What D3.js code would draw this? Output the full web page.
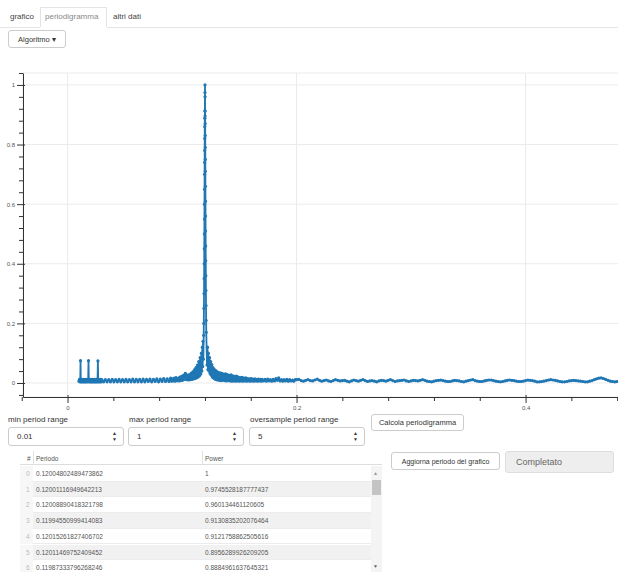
<!DOCTYPE html>
<html>
<head>
<meta charset="utf-8">
<script src="https://cdn.jsdelivr.net/npm/d3@7"></script>
<style>
  body { margin:0; width:618px; height:572px; overflow:hidden; background:#fff;
         font-family:"Liberation Sans", Arial, sans-serif; color:#333; position:relative; }
  .abs { position:absolute; box-sizing:border-box; }
  .tab { font-size:8px; color:#444; }
  .btn { border:1px solid #ccc; border-radius:3px; background:#fff; font-size:7.5px; color:#333;
         display:flex; align-items:center; justify-content:center; white-space:nowrap; }
  .lbl { font-size:8px; color:#333; white-space:nowrap; }
  .inp { border:1px solid #ccc; border-radius:3px; background:#fff; font-size:8px; color:#333;
         padding-left:8px; display:flex; align-items:center; }
  .spin { position:absolute; right:6px; top:2px; font-size:5px; line-height:6px; color:#333; text-align:center; }
  .cell { position:absolute; font-size:6.5px; color:#555; white-space:nowrap; }
  svg text { font-family:"Liberation Sans", Arial, sans-serif; }
</style>
</head>
<body>
<svg id="chart" class="abs" style="left:0;top:0" width="618" height="418"></svg>

<div class="abs tab" style="left:10px;top:12px">grafico</div>
<div class="abs" style="left:40px;top:7px;width:67px;height:21px;border:1px solid #e3e3e3;border-bottom:none;background:#fff"></div>
<div class="abs tab" style="left:45px;top:12px;color:#888">periodigramma</div>
<div class="abs tab" style="left:113px;top:12px">altri dati</div>
<div class="abs" style="left:0;top:27px;width:618px;height:1px;background:#e5e5e5"></div>
<div class="abs" style="left:40px;top:27px;width:67px;height:1px;background:#fff"></div>
<div class="abs btn" style="left:8px;top:30px;width:58px;height:18px">Algoritmo&nbsp;▾</div>

<div class="abs lbl" style="left:8px;top:415px">min period range</div>
<div class="abs lbl" style="left:129px;top:415px">max period range</div>
<div class="abs lbl" style="left:250px;top:415px">oversample period range</div>
<div class="abs inp" style="left:8px;top:427px;width:116px;height:19px">0.01<div class="spin">▲<br>▼</div></div>
<div class="abs inp" style="left:128px;top:427px;width:116px;height:19px">1<div class="spin">▲<br>▼</div></div>
<div class="abs inp" style="left:249px;top:427px;width:116px;height:19px">5<div class="spin">▲<br>▼</div></div>
<div class="abs btn" style="left:371px;top:414px;width:93px;height:17px">Calcola periodigramma</div>

<div class="abs btn" style="left:391px;top:452px;width:109px;height:18px;font-size:7px">Aggiorna periodo del grafico</div>
<div class="abs" style="left:505px;top:451px;width:109px;height:22px;background:#eee;border:1px solid #ddd;border-radius:3px;font-size:9px;color:#666;padding-left:10px;display:flex;align-items:center">Completato</div>

<div id="table" class="abs" style="left:20px;top:451px;width:362px;height:121px;overflow:hidden"></div>

<script>
// Periodogram samples, [period, power], grouped by stretch of the period axis
const shortPeriodBand = [
  [0.0100,0.006],[0.0104,0.012],[0.0108,0.004],[0.0111,0.011],[0.01135,0.075],[0.0116,0.004],
  [0.0120,0.012],[0.0124,0.004],[0.0128,0.011],[0.0132,0.004],[0.0136,0.012],[0.0140,0.004],
  [0.0144,0.011],[0.0148,0.004],[0.0152,0.012],[0.0156,0.004],[0.0160,0.011],[0.0164,0.004],
  [0.0168,0.012],[0.0172,0.004],[0.0176,0.011],[0.0180,0.006],[0.0183,0.075],[0.0186,0.004],
  [0.0190,0.012],[0.0194,0.004],[0.0198,0.011],[0.0202,0.004],[0.0206,0.012],[0.0210,0.004],
  [0.0214,0.011],[0.0218,0.004],[0.0222,0.012],[0.0226,0.004],[0.0230,0.011],[0.0234,0.004],
  [0.0238,0.012],[0.0242,0.004],[0.0246,0.011],[0.0250,0.004],[0.0254,0.012],[0.0258,0.004],
  [0.0262,0.011],[0.0265,0.074],[0.0268,0.004],[0.0272,0.012],[0.0276,0.004],[0.0280,0.011],
  [0.0285,0.004],[0.0290,0.012],[0.0295,0.004],[0.0300,0.011]
];
const flatBand = [
  [0.0315,0.004],[0.0330,0.011],[0.0345,0.004],[0.0360,0.011],[0.0375,0.004],[0.0390,0.012],
  [0.0405,0.004],[0.0420,0.011],[0.0435,0.004],[0.0450,0.012],[0.0465,0.004],[0.0480,0.011],
  [0.0495,0.004],[0.0510,0.012],[0.0525,0.004],[0.0540,0.011],[0.0555,0.004],[0.0570,0.013],
  [0.0585,0.004],[0.0600,0.012],[0.0615,0.004],[0.0630,0.012],[0.0645,0.004],[0.0660,0.013],
  [0.0675,0.004],[0.0690,0.012],[0.0705,0.005],[0.0720,0.013],[0.0735,0.004],[0.0750,0.012],
  [0.0765,0.005],[0.0780,0.014],[0.0795,0.004],[0.0810,0.013],[0.0825,0.005],[0.0840,0.015],
  [0.0855,0.005],[0.0870,0.014],[0.0885,0.005],[0.0900,0.016]
];
const risingBand = [
  [0.0908,0.006],[0.0916,0.014],[0.0924,0.007],[0.0932,0.016],[0.0940,0.006],[0.0948,0.018],
  [0.0956,0.008],[0.0964,0.015],[0.0972,0.007],[0.0980,0.020],[0.0988,0.008],[0.0996,0.022],
  [0.1004,0.009],[0.1012,0.026],[0.1020,0.012],[0.1028,0.032],[0.1034,0.030],[0.1040,0.011],
  [0.1048,0.026],[0.1056,0.010],[0.1064,0.028],[0.1072,0.011],[0.1080,0.033],[0.1088,0.012],
  [0.1096,0.038],[0.1104,0.014],[0.1110,0.045],[0.1116,0.015],[0.1122,0.052],[0.1128,0.018],
  [0.1134,0.060],[0.1140,0.020],[0.1146,0.072],[0.1152,0.024],[0.1158,0.085],[0.1164,0.030],
  [0.1169,0.100],[0.1173,0.040],[0.1177,0.120],[0.1180,0.055],[0.1183,0.140],[0.1186,0.080]
];
const peakRise = [
  [0.11890,0.16],[0.11900,0.20],[0.11910,0.25],[0.11920,0.30],[0.11928,0.35],[0.11935,0.40],
  [0.11942,0.45],[0.11948,0.50],[0.11954,0.55],[0.11959,0.60],[0.11964,0.65],[0.11968,0.70],
  [0.11972,0.74],[0.11976,0.78],[0.11979,0.82],[0.11982,0.86]
];
// Strongest periods, as listed in the table under the chart
const topPeriods = [0.12004802489473862, 0.12001116949642212, 0.12008890418321798,
  0.11994550999414083, 0.12015261827406702, 0.12011469752409452, 0.11987333796268246];
const topPowers = [1, 0.9745528187777437, 0.960134461120605,
  0.9130835202076464, 0.9121758862505616, 0.8956289926209206, 0.8884961637645321];
const peakFall = [
  [0.12020,0.87],[0.12024,0.83],[0.12028,0.79],[0.12032,0.75],[0.12036,0.71],[0.12041,0.66],
  [0.12046,0.61],[0.12051,0.56],[0.12057,0.51],[0.12063,0.46],[0.12070,0.41],[0.12077,0.36],
  [0.12085,0.31],[0.12094,0.26],[0.12104,0.21],[0.12115,0.17]
];
const decayBand = [
  [0.1218,0.060],[0.1222,0.120],[0.1226,0.045],[0.1230,0.100],[0.1235,0.040],[0.1240,0.085],
  [0.1245,0.032],[0.1250,0.072],[0.1255,0.026],[0.1260,0.062],[0.1265,0.020],[0.1270,0.052],
  [0.1275,0.017],[0.1280,0.046],[0.1285,0.014],[0.1290,0.042],[0.1295,0.012],[0.1300,0.040],
  [0.1308,0.010],[0.1316,0.036],[0.1324,0.009],[0.1332,0.034],[0.1340,0.008],[0.1348,0.032],
  [0.1356,0.009],[0.1364,0.030],[0.1372,0.008],[0.1380,0.031],[0.1388,0.007],[0.1396,0.028],
  [0.1404,0.008],[0.1412,0.026],[0.1420,0.007],[0.1428,0.027],[0.1436,0.006],[0.1444,0.024],
  [0.1452,0.007],[0.1460,0.022],[0.1468,0.006],[0.1476,0.023],[0.1484,0.007],[0.1492,0.020],
  [0.1500,0.006],[0.1508,0.018],[0.1516,0.007],[0.1524,0.019],[0.1532,0.006],[0.1540,0.016],
  [0.1548,0.007],[0.1556,0.017],[0.1564,0.006],[0.1572,0.015],[0.1580,0.007],[0.1588,0.014],
  [0.1596,0.006],[0.1604,0.015],[0.1612,0.007],[0.1620,0.013],[0.1628,0.006],[0.1636,0.014],
  [0.1644,0.007],[0.1652,0.012],[0.1660,0.006],[0.1668,0.013],[0.1676,0.007],[0.1684,0.012],
  [0.1692,0.006],[0.1700,0.012],[0.1712,0.007],[0.1724,0.012],[0.1736,0.006],[0.1748,0.013],
  [0.1760,0.007],[0.1772,0.011],[0.1784,0.006],[0.1796,0.012],[0.1808,0.007],[0.1820,0.015],
  [0.1832,0.009],[0.1844,0.017],[0.1856,0.007],[0.1868,0.011],[0.1880,0.006],[0.1892,0.011],
  [0.1904,0.007],[0.1916,0.012],[0.1928,0.006],[0.1940,0.011],[0.1952,0.007],[0.1964,0.010],
  [0.1976,0.006],[0.1988,0.011]
];
const longPeriodBand = [
  [0.200,0.011],[0.202,0.012],[0.204,0.008],[0.206,0.006],[0.208,0.009],[0.210,0.011],
  [0.212,0.008],[0.214,0.007],[0.216,0.010],[0.218,0.013],[0.220,0.009],[0.222,0.006],
  [0.224,0.008],[0.226,0.010],[0.228,0.007],[0.230,0.005],[0.232,0.008],[0.234,0.011],
  [0.236,0.009],[0.238,0.007],[0.240,0.008],[0.242,0.009],[0.244,0.006],[0.246,0.004],
  [0.248,0.007],[0.250,0.010],[0.252,0.008],[0.254,0.006],[0.256,0.009],[0.258,0.011],
  [0.260,0.008],[0.262,0.005],[0.264,0.007],[0.266,0.008],[0.268,0.006],[0.270,0.004],
  [0.272,0.007],[0.274,0.009],[0.276,0.008],[0.278,0.006],[0.280,0.009],[0.282,0.011],
  [0.284,0.008],[0.286,0.005],[0.288,0.007],[0.290,0.008],[0.292,0.009],[0.294,0.010],
  [0.296,0.007],[0.298,0.005],[0.300,0.007],[0.302,0.009],[0.304,0.008],[0.306,0.007],
  [0.308,0.009],[0.310,0.011],[0.312,0.009],[0.314,0.006],[0.316,0.005],[0.318,0.004],
  [0.320,0.006],[0.322,0.008],[0.324,0.009],[0.326,0.010],[0.328,0.008],[0.330,0.006],
  [0.332,0.005],[0.334,0.005],[0.336,0.007],[0.338,0.009],[0.340,0.008],[0.342,0.007],
  [0.344,0.005],[0.346,0.004],[0.348,0.006],[0.350,0.008],[0.352,0.010],[0.354,0.011],
  [0.356,0.008],[0.358,0.006],[0.360,0.005],[0.362,0.005],[0.364,0.007],[0.366,0.009],
  [0.368,0.010],[0.370,0.010],[0.372,0.008],[0.374,0.006],[0.376,0.005],[0.378,0.004],
  [0.380,0.005],[0.382,0.007],[0.384,0.009],[0.386,0.010],[0.388,0.009],[0.390,0.008],
  [0.392,0.006],[0.394,0.005],[0.396,0.005],[0.398,0.006],[0.400,0.008],[0.402,0.010],
  [0.404,0.009],[0.406,0.008],[0.408,0.006],[0.410,0.004],[0.412,0.004],[0.414,0.005],
  [0.416,0.006],[0.418,0.008],[0.420,0.010],[0.422,0.011],[0.424,0.010],[0.426,0.009],
  [0.428,0.007],[0.430,0.005],[0.432,0.004],[0.434,0.004],[0.436,0.005],[0.438,0.007],
  [0.440,0.008],[0.442,0.009],[0.444,0.008],[0.446,0.007],[0.448,0.006],[0.450,0.005],
  [0.452,0.004],[0.454,0.004],[0.456,0.006],[0.458,0.008],[0.460,0.011],[0.462,0.014],
  [0.464,0.016],[0.466,0.017],[0.468,0.015],[0.470,0.012],[0.472,0.009],[0.474,0.006],
  [0.476,0.005],[0.478,0.004],[0.480,0.005],[0.482,0.006],[0.484,0.008],[0.486,0.009],
  [0.488,0.010],[0.490,0.010]
];

const xMajorTicks = [0, 0.2, 0.4];
const xMinorTicks = [-0.04, 0.04, 0.08, 0.12, 0.16, 0.24, 0.28, 0.32, 0.36, 0.44, 0.48];
const yMajorTicks = [0, 0.2, 0.4, 0.6, 0.8, 1];
const yMinorTicks = [-0.04, 0.04, 0.08, 0.12, 0.16, 0.24, 0.28, 0.32, 0.36, 0.44, 0.48,
                     0.52, 0.56, 0.64, 0.68, 0.72, 0.76, 0.84, 0.88, 0.92, 0.96, 1.04];

const points = [].concat(
  shortPeriodBand, flatBand, risingBand, peakRise,
  topPeriods.map((p, i) => [p, topPowers[i]]),
  peakFall, decayBand, longPeriodBand
).sort((a, b) => a[0] - b[0]);

// Plot frame
const frame = { left: 23, top: 73, right: 619, bottom: 397 };
const x = d3.scaleLinear().domain([-0.0389, 0.4816]).range([frame.left, frame.right]);
const y = d3.scaleLinear().domain([-0.047, 1.04]).range([frame.bottom, frame.top]);

const svg = d3.select("#chart");
svg.append("defs").append("clipPath").attr("id", "plotclip")
  .append("rect").attr("x", frame.left).attr("y", frame.top)
  .attr("width", frame.right - frame.left).attr("height", frame.bottom - frame.top);

// Frame outline and grid
svg.append("rect").attr("x", frame.left).attr("y", frame.top)
  .attr("width", frame.right - frame.left).attr("height", frame.bottom - frame.top)
  .attr("fill", "none").attr("stroke", "#ececec");
svg.append("g").selectAll("line").data(xMajorTicks).join("line")
  .attr("x1", d => x(d)).attr("x2", d => x(d)).attr("y1", frame.top).attr("y2", frame.bottom)
  .attr("stroke", "#ebebeb");
svg.append("g").selectAll("line").data(yMajorTicks).join("line")
  .attr("y1", d => y(d)).attr("y2", d => y(d)).attr("x1", frame.left).attr("x2", frame.right)
  .attr("stroke", "#ebebeb");

// Periodogram: line plus sample markers
const plot = svg.append("g").attr("clip-path", "url(#plotclip)");
plot.append("path").datum(points)
  .attr("d", d3.line().x(d => x(d[0])).y(d => y(d[1])))
  .attr("fill", "none").attr("stroke", "#1f77b4").attr("stroke-width", 1.8)
  .attr("stroke-linejoin", "round");
plot.append("g").selectAll("circle").data(points).join("circle")
  .attr("cx", d => x(d[0])).attr("cy", d => y(d[1])).attr("r", 1.6)
  .attr("fill", "#1f77b4");

// Axes
function styleAxis(g) {
  g.select(".domain").attr("stroke", "#333");
  g.selectAll(".tick line").attr("stroke", "#333");
  g.selectAll(".tick text").attr("fill", "#555").attr("font-size", 6);
}
const xAxis = svg.append("g").attr("transform", `translate(0,${frame.bottom})`)
  .call(d3.axisBottom(x).tickValues(xMajorTicks).tickSize(6).tickSizeOuter(0)
        .tickFormat(d3.format("~g")).tickPadding(3));
styleAxis(xAxis);
xAxis.selectAll(".tick line").attr("y1", -2);
const xMinor = svg.append("g").attr("transform", `translate(0,${frame.bottom})`)
  .call(d3.axisBottom(x).tickValues(xMinorTicks).tickSize(4).tickFormat(""));
xMinor.select(".domain").remove();
xMinor.selectAll(".tick line").attr("stroke", "#333");

const yAxis = svg.append("g").attr("transform", `translate(${frame.left},0)`)
  .call(d3.axisLeft(y).tickValues(yMajorTicks).tickSize(6).tickSizeOuter(0)
        .tickFormat(d3.format("~g")).tickPadding(2));
styleAxis(yAxis);
yAxis.selectAll(".tick line").attr("x1", 2);
const yMinor = svg.append("g").attr("transform", `translate(${frame.left},0)`)
  .call(d3.axisLeft(y).tickValues(yMinorTicks).tickSize(4).tickFormat(""));
yMinor.select(".domain").remove();
yMinor.selectAll(".tick line").attr("stroke", "#333");

// Result table
const table = d3.select("#table");
const rowH = 15.7, headH = 14;
const colIdxW = 13, colPerW = 169, tableW = 362, scrollW = 11;
table.append("div").attr("class", "abs")
  .style("left", "0px").style("top", "0px").style("width", tableW + "px").style("height", headH + "px")
  .style("border-bottom", "1px solid #ddd").style("background", "#fff");
[["#", 7], ["Periodo", colIdxW + 3], ["Power", colIdxW + colPerW + 3]].forEach(([t, l]) => {
  table.append("div").attr("class", "cell").style("left", l + "px").style("top", "4px").text(t);
});
table.append("div").attr("class", "abs")
  .style("left", colIdxW + "px").style("top", "0px").style("width", "1px").style("height", headH + "px").style("background", "#e2e2e2");
table.append("div").attr("class", "abs")
  .style("left", (colIdxW + colPerW) + "px").style("top", "0px").style("width", "1px").style("height", headH + "px").style("background", "#e2e2e2");

topPeriods.forEach((p, i) => {
  const top = headH + 1 + i * rowH;
  table.append("div").attr("class", "abs")
    .style("left", "0px").style("top", top + "px").style("width", (tableW - scrollW) + "px").style("height", rowH + "px")
    .style("background", i % 2 ? "#f1f1f1" : "#fff").style("border-bottom", "1px solid #ececec");
  table.append("div").attr("class", "abs")
    .style("left", "0px").style("top", top + "px").style("width", colIdxW + "px").style("height", rowH + "px")
    .style("background", "#f7f7f7");
  table.append("div").attr("class", "cell").style("left", "6px").style("top", (top + 4) + "px")
    .style("color", "#bbb").text(i);
  table.append("div").attr("class", "cell").style("left", (colIdxW + 3) + "px").style("top", (top + 4) + "px").text(p);
  table.append("div").attr("class", "cell").style("left", (colIdxW + colPerW + 3) + "px").style("top", (top + 4) + "px").text(topPowers[i]);
});
// Scrollbar
table.append("div").attr("class", "abs")
  .style("left", (tableW - scrollW) + "px").style("top", (headH + 1) + "px").style("width", scrollW + "px").style("height", "110px")
  .style("background", "#f4f4f4");
table.append("div").attr("class", "abs")
  .style("left", (tableW - scrollW + 1) + "px").style("top", (headH + 15) + "px").style("width", (scrollW - 2) + "px").style("height", "15px")
  .style("background", "#c4c4c4");
table.append("div").attr("class", "cell").style("left", (tableW - scrollW + 2) + "px").style("top", (headH + 5) + "px")
  .style("font-size", "5px").style("color", "#999").text("▲");
table.append("div").attr("class", "cell").style("left", (tableW - scrollW + 2) + "px").style("top", "112px")
  .style("font-size", "5px").style("color", "#666").text("▼");
</script>
</body>
</html>
